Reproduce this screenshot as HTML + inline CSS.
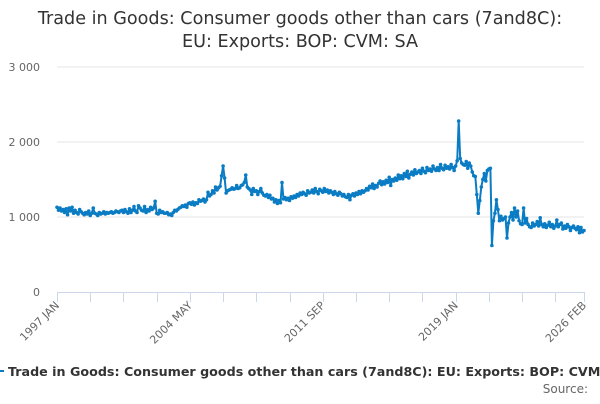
<!DOCTYPE html>
<html><head><meta charset="utf-8"><style>
body{margin:0;width:600px;height:400px;overflow:hidden;background:#fff;font-family:"DejaVu Sans","Liberation Sans",sans-serif;}
svg text{font-family:"DejaVu Sans","Liberation Sans",sans-serif;}
</style></head><body>
<svg id="chart" width="600" height="400">
<text x="300" y="24" text-anchor="middle" font-size="17.6" fill="#333">Trade in Goods: Consumer goods other than cars (7and8C):</text>
<text x="300" y="47" text-anchor="middle" font-size="17.6" fill="#333">EU: Exports: BOP: CVM: SA</text>
<g id="grid"></g><g id="xaxis"></g><g id="series"></g>
<g>
<line x1="-4" y1="371" x2="4" y2="371" stroke="#0a7cc4" stroke-width="2"/>
<text x="8" y="376" font-size="12.7" font-weight="bold" fill="#333">Trade in Goods: Consumer goods other than cars (7and8C): EU: Exports: BOP: CVM: SA</text>
</g>
<text x="588" y="393" text-anchor="end" font-size="12" fill="#666">Source:</text>
</svg>
<script>
const yTicks=[0,1000,2000,3000];
const yTickLabels=["0","1 000","2 000","3 000"];
const xTickLabels=["1997 JAN","2004 MAY","2011 SEP","2019 JAN","2026 FEB"];
const xTickIdx=[0,88,176,264,349];
const values=[
1130,1090,1120,1080,1100,1060,1110,1030,1120,1080,1130,1050,
1090,1060,1040,1100,1070,1050,1030,1060,1040,1080,1020,1050,
1120,1050,1040,1020,1060,1040,1050,1070,1040,1060,1050,1060,
1070,1050,1060,1080,1070,1060,1080,1090,1060,1100,1070,1050,
1110,1060,1090,1140,1080,1060,1150,1120,1090,1080,1140,1060,
1100,1080,1130,1100,1120,1210,1050,1040,1090,1060,1070,1050,
1050,1060,1030,1040,1020,1060,1090,1080,1100,1120,1130,1150,
1140,1160,1130,1180,1190,1170,1200,1160,1190,1180,1230,1210,
1220,1240,1200,1230,1330,1280,1300,1350,1320,1400,1360,1390,
1410,1550,1680,1520,1320,1350,1360,1370,1390,1370,1380,1420,
1380,1390,1420,1430,1460,1560,1400,1380,1360,1300,1380,1340,
1350,1300,1340,1380,1320,1290,1280,1300,1260,1290,1240,1250,
1200,1230,1180,1220,1190,1460,1240,1260,1230,1250,1220,1270,
1250,1280,1260,1300,1280,1320,1300,1330,1310,1290,1350,1320,
1330,1360,1320,1380,1340,1310,1370,1350,1330,1380,1340,1360,
1320,1350,1330,1300,1340,1310,1290,1330,1310,1280,1300,1270,
1260,1300,1230,1290,1310,1280,1320,1300,1340,1310,1350,1330,
1350,1380,1360,1410,1390,1440,1380,1420,1400,1450,1480,1430,
1470,1440,1490,1460,1530,1420,1500,1480,1520,1490,1560,1510,
1550,1510,1580,1540,1610,1520,1570,1600,1560,1630,1580,1600,
1620,1580,1650,1610,1590,1660,1620,1640,1610,1680,1640,1620,
1660,1620,1700,1650,1630,1690,1650,1670,1640,1700,1660,1620,
1680,1750,2280,1780,1720,1700,1690,1740,1650,1720,1680,1600,
1550,1540,1300,1050,1220,1400,1500,1580,1480,1620,1640,1650,
620,950,1050,1230,1100,950,1010,960,980,1000,720,920,
1000,1060,960,1120,1000,1080,950,910,900,1120,920,980,
900,870,860,920,880,900,940,880,990,900,870,910,
860,890,930,870,900,850,880,960,870,900,920,840,
880,850,900,870,820,860,880,850,830,870,790,860,
800,820];
const NS="http://www.w3.org/2000/svg";
const X0=57,X1=584,Y0=292,Y1=67,YMAX=3000;
const xs=i=>X0+i*(X1-X0)/(values.length-1);
const ys=v=>Y0-v*(Y0-Y1)/YMAX;
function mk(t,a,p){const e=document.createElementNS(NS,t);for(const k in a)e.setAttribute(k,a[k]);p.appendChild(e);return e;}
const grid=document.getElementById('grid');
yTicks.forEach((t,i)=>{
  if(t>0){const l=mk('line',{x1:X0,x2:X1,y1:ys(t),y2:ys(t),stroke:'#e6e6e6'},grid);
  
  }
  const tx=mk('text',{x:40,y:ys(t)+4,'text-anchor':'end','font-size':'11',fill:'#666'},grid);
  tx.textContent=yTickLabels[i];
  
  
});
const xa=document.getElementById('xaxis');
const ax=mk('line',{x1:X0,x2:X1,y1:Y0+0.5,y2:Y0+0.5,stroke:'#ccd6eb'},xa);


for(let k=0;k<=16;k++){const i=Math.min(k*22,values.length-1);const x=Math.round(xs(i))+0.5;
  const tk=mk('line',{x1:x,x2:x,y1:Y0,y2:Y0+10,stroke:'#ccd6eb'},xa);
  
  }
xTickIdx.forEach((i,j)=>{const x=xs(i);
  const t=mk('text',{x:x+3,y:Y0+14,'text-anchor':'end','font-size':'11',fill:'#666',transform:`rotate(-45 ${x+3} ${Y0+14})`},xa);
  t.textContent=xTickLabels[j];
  
  });
const sg=document.getElementById('series');
const pl=mk('polyline',{points:values.map((v,i)=>xs(i).toFixed(1)+','+ys(v).toFixed(1)).join(' '),fill:'none',stroke:'#0a7cc4','stroke-width':2,'stroke-linejoin':'round'},sg);


values.forEach((v,i)=>{const c=mk('circle',{cx:xs(i),cy:ys(v),r:1.8,fill:'#0a7cc4'},sg);
  
  });
</script>
</body></html>
